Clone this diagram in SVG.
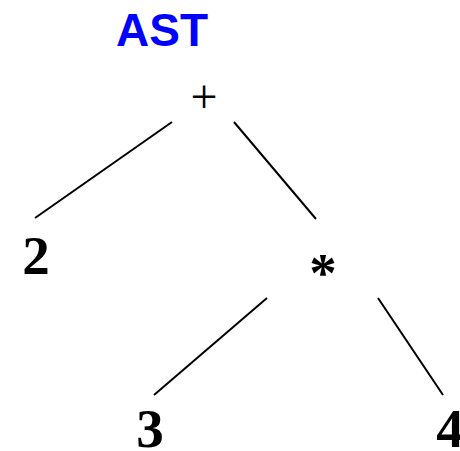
<svg xmlns="http://www.w3.org/2000/svg" width="460" height="451" viewBox="0 0 460 451">
<style>
.t{font-family:"Liberation Serif","Times New Roman",serif;font-weight:bold;font-size:55px;fill:#000}
.e{stroke:#000;stroke-width:2;fill:none}
</style>
<rect width="460" height="451" fill="#fff"/>
<text x="162" y="46" text-anchor="middle" font-family="Liberation Sans, Arial, sans-serif" font-weight="bold" font-size="46" fill="#0000ff">AST</text>
<g id="connectors">
<line class="e" x1="172" y1="122" x2="35" y2="218"/>
<line class="e" x1="234" y1="122" x2="316" y2="219"/>
<line class="e" x1="267" y1="298" x2="154" y2="395"/>
<line class="e" x1="378" y1="298" x2="443" y2="395"/>
</g>
<g id="n-plus"><text x="204" y="113" text-anchor="middle" font-family="Liberation Serif, Times New Roman, serif" font-size="48">+</text></g>
<g id="n-2"><text class="t" x="36" y="274" text-anchor="middle">2</text></g>
<g id="n-star"><text class="t" x="323" y="291" text-anchor="middle">*</text></g>
<g id="n-3"><text class="t" x="150" y="447" text-anchor="middle">3</text></g>
<g id="n-4"><text class="t" x="450" y="447" text-anchor="middle">4</text></g>
</svg>
